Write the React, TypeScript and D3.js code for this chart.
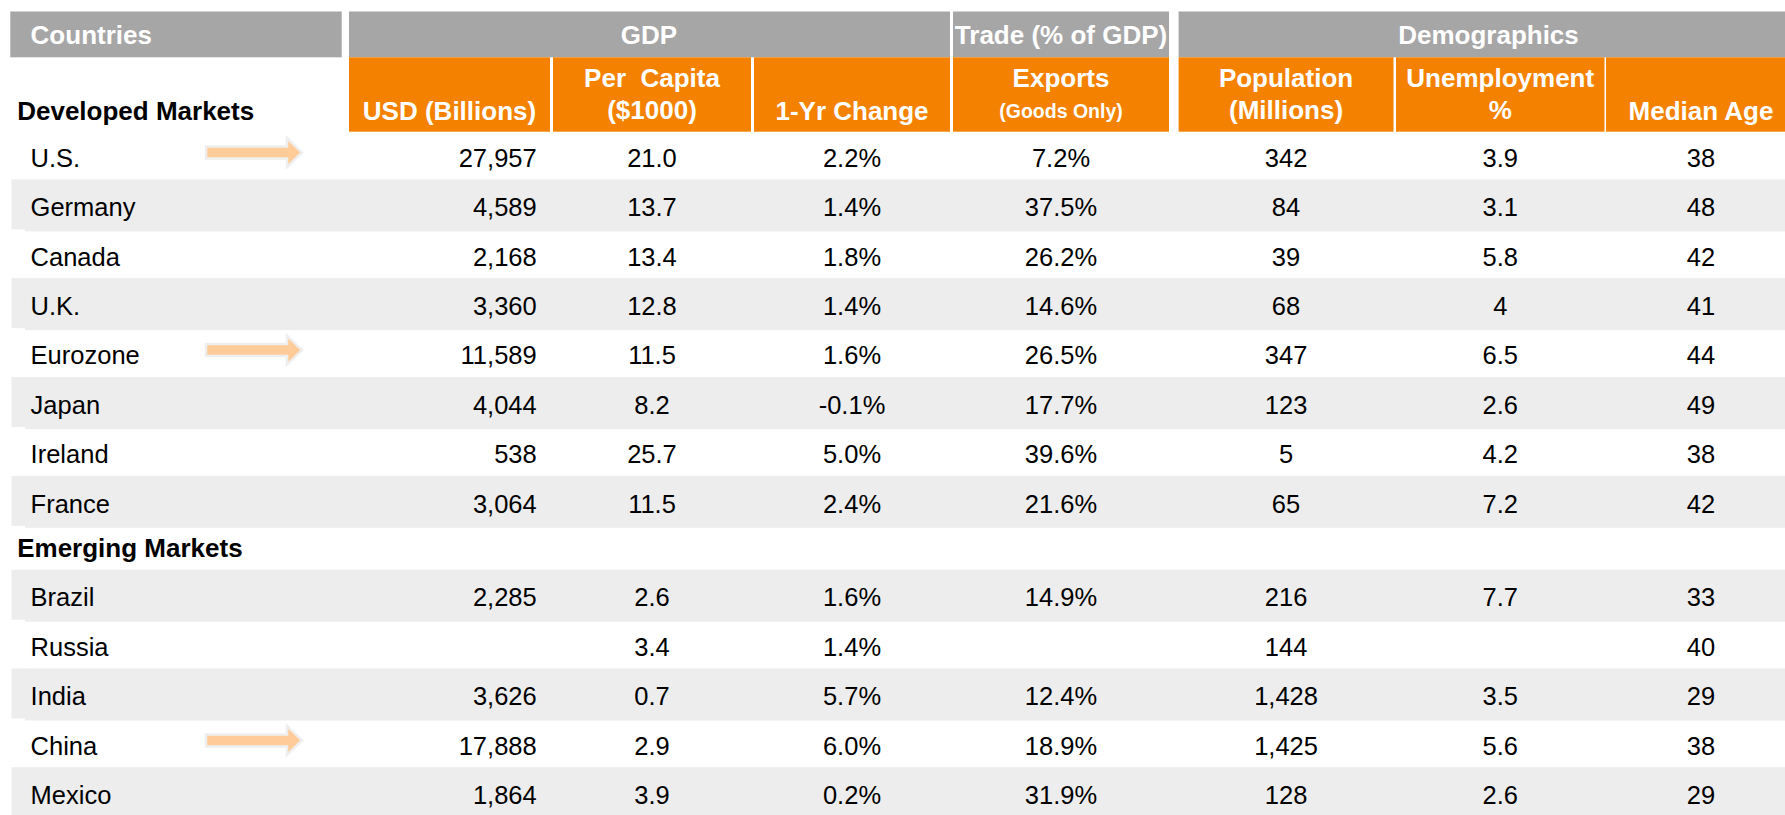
import React, { useEffect } from "react";
import * as d3 from "d3";

// ---------------- data ----------------
const developed = ["U.S.", "Germany", "Canada", "U.K.", "Eurozone", "Japan", "Ireland", "France"];
const emerging = ["Brazil", "Russia", "India", "China", "Mexico"];
const countries = [...developed, ...emerging];
const sectionLabels = ["Developed Markets", "Emerging Markets"];
const highlighted = ["U.S.", "Eurozone", "China"];

const gdpUsdBillions = [27957, 4589, 2168, 3360, 11589, 4044, 538, 3064, 2285, null, 3626, 17888, 1864];
const gdpPerCapita = [21.0, 13.7, 13.4, 12.8, 11.5, 8.2, 25.7, 11.5, 2.6, 3.4, 0.7, 2.9, 3.9];
const gdpChange1Yr = [2.2, 1.4, 1.8, 1.4, 1.6, -0.1, 5.0, 2.4, 1.6, 1.4, 5.7, 6.0, 0.2];
const exportsPctGdp = [7.2, 37.5, 26.2, 14.6, 26.5, 17.7, 39.6, 21.6, 14.9, null, 12.4, 18.9, 31.9];
const populationMillions = [342, 84, 39, 68, 347, 123, 5, 65, 216, 144, 1428, 1425, 128];
const unemploymentPct = [3.9, 3.1, 5.8, 4, 6.5, 2.6, 4.2, 7.2, 7.7, null, 3.5, 5.6, 2.6];
const medianAge = [38, 48, 42, 41, 44, 49, 38, 42, 33, 40, 29, 38, 29];

const groupHeaders = ["Countries", "GDP", "Trade (% of GDP)", "Demographics"];
const columnHeaders = [
  ["USD (Billions)"],
  ["Per  Capita", "($1000)"],
  ["1-Yr Change"],
  ["Exports", "(Goods Only)"],
  ["Population", "(Millions)"],
  ["Unemployment", "%"],
  ["Median Age"],
];

// ---------------- formatting ----------------
const locale = d3.formatLocale({
  decimal: ".",
  thousands: ",",
  grouping: [3],
  currency: ["$", ""],
  minus: "-",
});
const fmtComma = locale.format(",");
const fmt1 = locale.format(".1f");
const fmtPct = (v: number) => fmt1(v) + "%";
const fmtPlain = (v: number) => String(v);

const columns = [
  { values: gdpUsdBillions, fmt: fmtComma },
  { values: gdpPerCapita, fmt: fmt1 },
  { values: gdpChange1Yr, fmt: fmtPct },
  { values: exportsPctGdp, fmt: fmtPct },
  { values: populationMillions, fmt: fmtComma },
  { values: unemploymentPct, fmt: fmtPlain },
  { values: medianAge, fmt: fmtPlain },
];

// ---------------- layout ----------------
const W = 1785;
const H = 815;
const FONT = "'Liberation Sans', Arial, Helvetica, sans-serif";
const ORANGE = "#F48200";
const HEAD_GRAY = "#A6A6A6";
const ROW_GRAY = "#EDEDED";

const colEdges: [number, number][] = [
  [349, 550],
  [553, 751],
  [754, 950],
  [953, 1169],
  [1178.6, 1393.5],
  [1396, 1604.5],
  [1606, 1796],
];
const groupEdges: [number, number][] = [
  [10.3, 341.7],
  [349, 950],
  [953, 1169],
  [1178.6, 1796],
];
const groupTextX = [30.6, 649, 1061, 1488.5];
const groupTop = 11.5;
const groupBottom = 57.3;
const orangeBottom = 131.7;

// row index -> text centre
const rowY = d3.scaleLinear().domain([0, 1]).range([157.5, 206.9]);
const sectionGap = 44.5;
const yCenter = (i: number) => rowY(i) + (i >= developed.length ? sectionGap : 0);

export default function App() {
  useEffect(() => {
    document.body.style.margin = "0";
  }, []);

  const dataFont = 25.5;
  const headFont = 26;
  const textOff = 9.2;

  return (
    <svg
      width={W}
      height={H}
      viewBox={`0 0 ${W} ${H}`}
      style={{ position: "absolute", left: 0, top: 0, background: "#fff" }}
      fontFamily={FONT}
    >
      {/* striped rows */}
      {countries.map((c, i) => {
        const k = i + (i >= developed.length ? 1 : 0);
        if (k % 2 === 0) return null;
        const cy = yCenter(i);
        return (
          <g key={"band" + c}>
            <rect x={25} y={cy - 27.5} width={W - 25} height={52} fill={ROW_GRAY} />
            <rect x={11.5} y={cy - 27.5} width={14} height={50} fill={ROW_GRAY} />
          </g>
        );
      })}

      {/* group header (gray) */}
      {groupHeaders.map((g, j) => (
        <g key={"g" + g}>
          <rect
            x={groupEdges[j][0]}
            y={groupTop}
            width={groupEdges[j][1] - groupEdges[j][0]}
            height={groupBottom - groupTop}
            fill={HEAD_GRAY}
          />
          <text
            x={groupTextX[j]}
            y={44}
            fill="#fff"
            fontWeight="bold"
            fontSize={headFont}
            textAnchor={j === 0 ? "start" : "middle"}
          >
            {g}
          </text>
        </g>
      ))}

      {/* column headers (orange) */}
      {columnHeaders.map((lines, j) => {
        const [x0, x1] = colEdges[j];
        const cx = (x0 + x1) / 2;
        return (
          <g key={"c" + j}>
            <rect x={x0} y={groupBottom} width={x1 - x0} height={orangeBottom - groupBottom} fill={ORANGE} />
            {lines.length === 1 ? (
              <text x={cx} y={119.5} fill="#fff" fontWeight="bold" fontSize={headFont} textAnchor="middle">
                {lines[0]}
              </text>
            ) : (
              <>
                <text x={cx} y={86.5} fill="#fff" fontWeight="bold" fontSize={headFont} textAnchor="middle" style={{ whiteSpace: "pre" }}>
                  {lines[0]}
                </text>
                <text
                  x={cx}
                  y={lines[1].startsWith("(Goods") ? 117.5 : 119}
                  fill="#fff"
                  fontWeight="bold"
                  fontSize={lines[1].startsWith("(Goods") ? 19.5 : headFont}
                  textAnchor="middle"
                >
                  {lines[1]}
                </text>
              </>
            )}
          </g>
        );
      })}

      {/* section labels */}
      <text x={17.2} y={120} fontWeight="bold" fontSize={headFont} fill="#000">
        {sectionLabels[0]}
      </text>
      <text x={17.2} y={yCenter(developed.length - 1) + sectionGap + 9.5} fontWeight="bold" fontSize={headFont} fill="#000">
        {sectionLabels[1]}
      </text>

      {/* rows */}
      {countries.map((c, i) => {
        const cy = yCenter(i);
        const ay = cy - 5;
        return (
          <g key={"r" + c}>
            <text x={30.6} y={cy + textOff} fontSize={dataFont} fill="#000">
              {c}
            </text>
            {highlighted.includes(c) && (
              <path
                d={`M206,${ay - 6} L287,${ay - 6} L287,${ay - 14.5} L302,${ay} L287,${ay + 14.5} L287,${ay + 6} L206,${ay + 6} Z`}
                fill="#FFCC99"
                stroke="#EEEEEE"
                strokeWidth={2.5}
                strokeLinejoin="miter"
              />
            )}
            {columns.map((col, j) => {
              const v = col.values[i];
              if (v === null || v === undefined) return null;
              const [x0, x1] = colEdges[j];
              return (
                <text
                  key={"v" + j}
                  x={j === 0 ? 536.7 : (x0 + x1) / 2}
                  y={cy + textOff}
                  fontSize={dataFont}
                  fill="#000"
                  textAnchor={j === 0 ? "end" : "middle"}
                >
                  {col.fmt(v as number)}
                </text>
              );
            })}
          </g>
        );
      })}
    </svg>
  );
}
